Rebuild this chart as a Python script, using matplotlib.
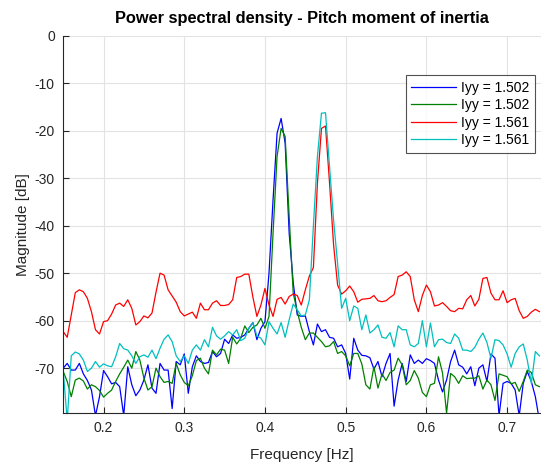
import numpy as np
import matplotlib
matplotlib.use("Agg")
import matplotlib.pyplot as plt

plt.rcParams['font.family'] = ['Liberation Sans', 'DejaVu Sans']
plt.rcParams['axes.unicode_minus'] = False

# frequency grid [Hz]
freq = np.linspace(0.15, 0.74, 119)

# Iyy = 1.502 (blue)
psd_blue = [-70.0, -69.0, -70.4, -70.4, -69.0, -71.2, -72.6, -74.6, -80.0, -76.0,
            -70.5, -71.8, -73.3, -73.0, -73.9, -80.0, -69.7, -73.5, -75.8, -74.6,
            -72.5, -69.3, -74.2, -75.3,
            -69.0, -70.4, -70.4, -78.5, -68.6, -69.3, -67.0, -75.3, -69.7, -67.4,
            -68.6, -69.0, -68.8, -66.5, -67.6, -66.9, -63.9, -64.8, -63.0, -63.7,
            -63.5, -63.0, -61.6, -60.4,
            -64.0, -61.6, -60.2, -50.0, -34.6, -20.5, -17.4, -22.6, -41.6, -52.0,
            -58.8, -59.1, -59.0, -62.3, -65.1, -60.7, -62.3, -61.9, -63.5, -63.7,
            -65.5, -65.1, -66.9, -72.3,
            -63.7, -66.2, -67.3, -67.4, -67.8, -70.2, -68.6, -71.8, -69.0, -66.9,
            -78.0, -72.5, -69.0, -72.8, -67.2, -69.0, -68.3, -69.0, -68.0, -68.4,
            -69.0, -72.5, -75.0, -72.5,
            -68.6, -66.2, -69.3, -69.8, -71.2, -69.7, -73.7, -70.0, -69.3, -72.8,
            -67.0, -67.9, -80.0, -73.2, -72.8, -73.2, -74.6, -80.0, -73.2, -70.7,
            -72.8, -76.0, -81.0]

# Iyy = 1.502 (green)
psd_green = [-70.7, -72.8, -76.0, -72.5, -72.1, -72.7, -74.4, -73.5, -73.9, -74.7,
             -76.1, -75.3, -74.6, -72.8, -71.2, -69.8, -68.3, -70.0, -66.5, -68.3,
             -72.1, -74.6, -73.9, -70.0,
             -71.8, -73.0, -72.8, -73.2, -69.0, -71.4, -73.0, -73.7, -71.6, -68.4,
             -67.9, -70.0, -71.2, -66.2, -67.2, -66.0, -66.2, -69.0, -63.5, -64.9,
             -63.7, -61.1, -62.5, -61.4,
             -60.9, -59.5, -61.6, -59.1, -41.6, -25.4, -19.5, -21.2, -38.1, -54.2,
             -58.1, -61.4, -64.0, -62.6, -62.6, -63.5, -64.4, -65.5, -65.3, -64.4,
             -66.9, -66.5, -67.4, -69.5,
             -66.9, -66.9, -69.1, -73.5, -74.4, -69.7, -74.2, -71.2, -72.6, -70.9,
             -70.4, -67.9, -69.3, -73.5, -72.6, -70.5, -72.1, -75.1, -76.0, -73.5,
             -73.2, -67.6, -71.0, -79.5,
             -71.1, -71.8, -73.2, -71.6, -72.2, -72.1, -72.1, -71.6, -74.4, -72.5,
             -73.5, -76.8, -71.2, -71.5, -71.8, -73.3, -73.0, -74.9, -72.8, -70.4,
             -70.9, -73.5, -73.9]

# Iyy = 1.561 (red)
psd_red = [-62.3, -63.5, -58.8, -54.1, -53.5, -53.9, -55.3, -58.1, -61.9, -62.8,
           -60.2, -60.0, -58.6, -56.7, -56.3, -57.0, -55.6, -57.4, -60.9, -60.2,
           -59.0, -59.4, -58.4, -54.0,
           -50.0, -50.4, -53.5, -54.8, -56.1, -58.1, -59.0, -58.6, -58.2, -59.5,
           -56.3, -57.7, -57.7, -56.3, -55.8, -56.8, -56.8, -56.6, -55.6, -50.9,
           -50.7, -50.2, -50.2, -55.0,
           -59.1, -56.7, -53.2, -56.7, -59.1, -55.5, -55.1, -56.5, -54.9, -54.4,
           -54.7, -56.7, -53.5, -50.6, -48.8, -31.0, -19.5, -19.0, -31.0, -44.0,
           -52.5, -54.4, -53.7,
           -52.7, -53.9, -56.1, -55.5, -55.4, -55.3, -54.7, -55.8, -56.0, -55.8,
           -55.1, -54.5, -50.7, -50.4, -49.7, -50.7, -55.6, -58.1, -54.7, -52.5,
           -53.9, -56.9, -56.7,
           -56.2, -57.0, -57.9, -58.1, -57.4, -57.5, -55.6, -54.7, -56.9, -55.5,
           -51.1, -50.9, -54.2, -55.6, -55.6, -53.7, -56.2, -55.6, -55.3, -57.9,
           -59.5, -59.1, -58.2, -57.6, -58.1]

# Iyy = 1.561 (cyan)
psd_cyan = [-70.5, -81.0,
            -67.4, -66.6, -67.0, -68.3, -70.7, -70.0, -68.6, -69.8, -69.1, -69.5,
            -69.7, -67.6, -64.8, -65.9, -66.2, -67.4, -69.0, -67.6, -67.2, -67.7,
            -66.2, -68.0,
            -65.8, -63.9, -63.0, -64.4, -67.4, -68.6, -67.4, -69.0, -66.2, -65.1,
            -66.2, -64.0, -65.5, -61.4, -63.2, -63.9, -63.2, -62.3, -63.0, -61.9,
            -64.2, -63.7, -61.6, -60.4,
            -63.2, -63.7, -65.1, -60.2, -61.6, -62.8, -60.4, -63.5, -59.8, -56.5,
            -57.7, -59.0, -58.8, -55.6, -40.0, -25.4, -16.3, -16.2, -27.5, -38.8,
            -48.0, -57.4, -55.3, -60.0,
            -56.9, -57.4, -61.9, -58.8, -62.6, -61.9, -60.9, -63.5, -63.7, -62.5,
            -65.5, -61.1, -61.9, -61.9, -65.1, -65.5, -64.8, -60.0, -65.5, -60.5,
            -65.5, -64.0, -63.9, -64.6,
            -64.8, -62.8, -63.7, -66.2, -66.2, -66.5, -65.6, -63.9, -62.6, -64.6,
            -67.9, -64.0, -64.2, -65.1, -67.0, -69.8, -66.9, -65.5, -64.9, -68.3,
            -73.2, -66.5, -67.4]

labels = ['Iyy = 1.502', 'Iyy = 1.502', 'Iyy = 1.561', 'Iyy = 1.561']
colors = ['#0000ff', '#008000', '#ff0000', '#00bfbf']

fig = plt.figure(figsize=(5.41, 4.62), dpi=100)
ax = fig.add_axes([0.1168, 0.1065, 0.8832, 0.816])

for y, c, lab in zip([psd_blue, psd_green, psd_red, psd_cyan], colors, labels):
    ax.plot(freq, y, color=c, lw=0.9, label=lab)

ax.set_xlim(0.15, 0.742)
ax.set_ylim(-79.4, 0)
ax.set_xticks([0.2, 0.3, 0.4, 0.5, 0.6, 0.7])
ax.set_yticks([0, -10, -20, -30, -40, -50, -60, -70])
ax.grid(True, color='#e3e3e3', lw=0.8)
ax.set_axisbelow(True)
for s in ['top', 'right']:
    ax.spines[s].set_visible(False)
for s in ['left', 'bottom']:
    ax.spines[s].set_color('#262626')
    ax.spines[s].set_linewidth(0.8)
ax.tick_params(direction='in', length=4, width=0.8, colors='#262626',
               labelsize=10, pad=6)

ax.set_xlabel('Frequency [Hz]', fontsize=11, color='#262626', labelpad=9)
ax.set_ylabel('Magnitude [dB]', fontsize=11, color='#262626', labelpad=3)
ax.set_title('Power spectral density - Pitch moment of inertia',
             fontsize=11.8, fontweight='bold', pad=9)

leg = ax.legend(loc='upper right', bbox_to_anchor=(0.9875, 0.896),
                borderaxespad=0, fancybox=False, fontsize=10,
                handlelength=3.2, labelspacing=0.25, borderpad=0.4,
                handletextpad=0.4)
leg.get_frame().set_edgecolor('#262626')
leg.get_frame().set_linewidth(0.8)

fig.savefig('out.png', dpi=100)
